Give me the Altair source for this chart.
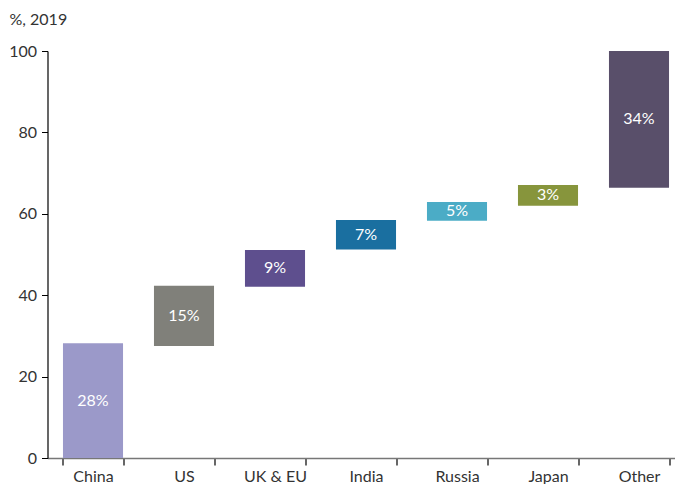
import altair as alt
import pandas as pd

countries = ["China", "US", "UK & EU", "India", "Russia", "Japan", "Other"]
starts = [0, 27.5, 42.1, 51.2, 58.3, 62.0, 66.4]
ends = [28.2, 42.3, 51.1, 58.5, 62.9, 67.1, 100]
labels = ["28%", "15%", "9%", "7%", "5%", "3%", "34%"]
colors = ["#9b99c9", "#80807a", "#5e4f8e", "#1a6fa0", "#4bacc6", "#87953c", "#594f6a"]

df = pd.DataFrame({"country": countries, "start": starts, "end": ends,
                   "label": labels, "color": colors})
df["mid"] = (df["start"] + df["end"]) / 2

FONT = "Lato"

x = alt.X("country:N", sort=countries, title=None,
          scale=alt.Scale(paddingInner=0.34, paddingOuter=0.17, range=[0, 637]),
          axis=alt.Axis(labelAngle=0, tickBand="extent", tickSize=7, tickColor="#000",
                        domainColor="#777", domainWidth=1.5, labelFont=FONT,
                        labelFontSize=16, labelColor="#333", labelPadding=3,
                        tickWidth=1.2))

bars = alt.Chart(df).mark_bar().encode(
    x=x,
    y=alt.Y("start:Q", scale=alt.Scale(domain=[0, 100]),
            axis=alt.Axis(values=[0, 20, 40, 60, 80, 100], grid=False, tickSize=6,
                          tickColor="#000", domainColor="#000", domainWidth=1.2,
                          labelFont=FONT, labelFontSize=16, labelColor="#333",
                          labelPadding=5, title="%, 2019", titleAngle=0,
                          titleFont=FONT, titleFontSize=16, titleFontWeight="normal",
                          titleColor="#333", titleX=-38.5, titleY=-27,
                          titleAlign="left", titleBaseline="alphabetic")),
    y2="end:Q",
    color=alt.Color("color:N", scale=None),
)

text = alt.Chart(df).mark_text(color="white", font=FONT, fontSize=16).encode(
    x=alt.X("country:N", sort=countries),
    y=alt.Y("mid:Q"),
    text="label:N",
)

chart = (bars + text).properties(
    width=627, height=407,
    autosize=alt.AutoSizeParams(type="none"),
    padding={"left": 39.5, "top": 43, "right": 0, "bottom": 26},
).configure_view(stroke=None)

chart.save("out.html", embed_options={"renderer": "svg", "actions": False})
